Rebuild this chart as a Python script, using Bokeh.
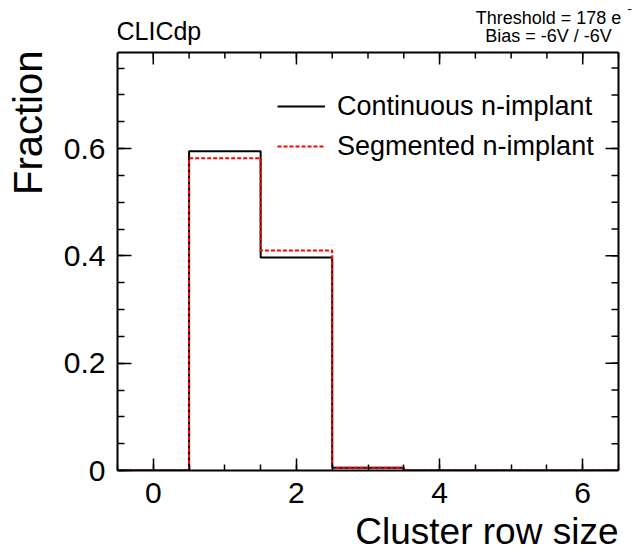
import numpy as np
from bokeh.plotting import figure
from bokeh.models import (Range1d, FixedTicker, LinearAxis, Label, Legend, LegendItem)
from bokeh.embed import file_html
from bokeh.resources import INLINE

# ---- data ----
cluster_size = [0, 1, 2, 3, 4, 5, 6]
continuous = [0.0, 0.595, 0.397, 0.005, 0.0, 0.0, 0.0]
segmented = [0.0, 0.582, 0.410, 0.005, 0.0, 0.0, 0.0]
x_ticks = [0, 2, 4, 6]
y_ticks = [0.0, 0.2, 0.4, 0.6]
y_tick_labels = ["0", "0.2", "0.4", "0.6"]
series_labels = ["Continuous n-implant", "Segmented n-implant"]

FONT = "Liberation Sans"
XMIN, XMAX = -0.5, 6.5
YMAX = 0.779

# layout constants (pixels)
BOX_W, BOX_H = 501, 418   # size of the drawn plot box
TOP_PAD, RIGHT_PAD = 52, 20   # space kept inside the frame so texts are not clipped
PPX = BOX_W / (XMAX - XMIN)
PPY = BOX_H / YMAX
YTOP = YMAX + TOP_PAD / PPY
XRIGHT = XMAX + RIGHT_PAD / PPX

edges = [c - 0.5 for c in cluster_size] + [cluster_size[-1] + 0.5]
x_minor = list(np.arange(XMIN, XMAX + 0.01, 0.5))
y_minor = list(np.arange(0.0, YMAX, 0.05))

p = figure(width=638, height=552, output_backend="svg", toolbar_location=None,
           x_range=Range1d(XMIN, XRIGHT), y_range=Range1d(0, YTOP),
           min_border_left=117, min_border_right=0, min_border_top=0, min_border_bottom=82,
           x_axis_location=None, y_axis_location=None)
p.xgrid.visible = False
p.ygrid.visible = False
p.background_fill_color = "white"
p.border_fill_color = "white"
p.outline_line_color = None


def make_axis(kind, major_len, minor_len, standoff):
    ax = LinearAxis()
    if kind == "x":
        ax.ticker = FixedTicker(ticks=x_ticks, minor_ticks=x_minor)
        ax.bounds = (XMIN, XMAX)
    else:
        ax.ticker = FixedTicker(ticks=y_ticks, minor_ticks=y_minor)
        ax.major_label_overrides = {t: l for t, l in zip(y_ticks, y_tick_labels)}
        ax.bounds = (0, YMAX)
    ax.axis_line_color = "black"
    ax.axis_line_width = 2
    ax.major_tick_in = major_len
    ax.major_tick_out = 0
    ax.minor_tick_in = minor_len
    ax.minor_tick_out = 0
    ax.major_tick_line_width = 1.5
    ax.minor_tick_line_width = 1.5
    ax.major_tick_line_color = "black"
    ax.minor_tick_line_color = "black"
    ax.major_label_text_font = FONT
    ax.major_label_text_font_size = "30px"
    ax.major_label_text_color = "black"
    ax.major_label_standoff = standoff
    return ax


p.add_layout(make_axis("x", 12, 6, 12), "below")
p.add_layout(make_axis("y", 14, 7, 12), "left")

# top and right edges of the box with inward ticks
p.segment(x0=[XMIN, XMAX], y0=[YMAX, 0], x1=[XMAX, XMAX], y1=[YMAX, YMAX],
          line_color="black", line_width=2)
p.segment(x0=x_ticks, y0=[YMAX] * len(x_ticks), x1=x_ticks,
          y1=[YMAX - 12 / PPY] * len(x_ticks), line_color="black", line_width=1.5)
p.segment(x0=x_minor, y0=[YMAX] * len(x_minor), x1=x_minor,
          y1=[YMAX - 6 / PPY] * len(x_minor), line_color="black", line_width=1.5)
p.segment(x0=[XMAX] * len(y_ticks), y0=y_ticks, x1=[XMAX - 13 / PPX] * len(y_ticks),
          y1=y_ticks, line_color="black", line_width=1.5)
p.segment(x0=[XMAX] * len(y_minor), y0=y_minor, x1=[XMAX - 7 / PPX] * len(y_minor),
          y1=y_minor, line_color="black", line_width=1.5)

# histograms (step)
r1 = p.step(x=edges, y=continuous + [continuous[-1]], mode="after",
            line_color="black", line_width=2)
r2 = p.step(x=edges, y=segmented + [segmented[-1]], mode="after",
            line_color="red", line_width=2, line_dash="4 2")

legend = Legend(items=[LegendItem(label=series_labels[0], renderers=[r1]),
                       LegendItem(label=series_labels[1], renderers=[r2])],
                location=(160, 304), glyph_width=48, glyph_height=40, label_height=40,
                label_standoff=12, spacing=0, padding=0, margin=0,
                border_line_color=None, background_fill_alpha=0,
                label_text_font_size="27px", label_text_font=FONT, label_text_color="black")
p.add_layout(legend)

# axis titles (side panels)
p.add_layout(Label(x=XMAX, y=0, y_offset=-61, text="Cluster row size",
                   text_align="right", text_baseline="alphabetic",
                   text_font=FONT, text_font_size="37px", text_color="black"), "below")
p.add_layout(Label(x=XMIN, y=YMAX, x_offset=-89.5, y_offset=2, angle=np.pi / 2,
                   text="Fraction", text_align="right", text_baseline="alphabetic",
                   text_font=FONT, text_font_size="40px", text_color="black"), "left")

# texts above the box (inside the frame area)
p.add_layout(Label(x=XMIN, y=YMAX, x_offset=-1, y_offset=22, text="CLICdp",
                   text_align="left", text_baseline="alphabetic",
                   text_font=FONT, text_font_size="25px", text_color="black"))
p.add_layout(Label(x=XMAX, y=YMAX, x_offset=-70, y_offset=35, text="Threshold = 178 e",
                   text_align="center", text_baseline="alphabetic",
                   text_font=FONT, text_font_size="18px", text_color="black"))
p.add_layout(Label(x=XMAX, y=YMAX, x_offset=9, y_offset=44, text="-",
                   text_align="left", text_baseline="alphabetic",
                   text_font=FONT, text_font_size="13px", text_color="black"))
p.add_layout(Label(x=XMAX, y=YMAX, x_offset=-70, y_offset=16.5, text="Bias = -6V / -6V",
                   text_align="center", text_baseline="alphabetic",
                   text_font=FONT, text_font_size="18px", text_color="black"))

open("out.html", "w").write(file_html(p, INLINE))
